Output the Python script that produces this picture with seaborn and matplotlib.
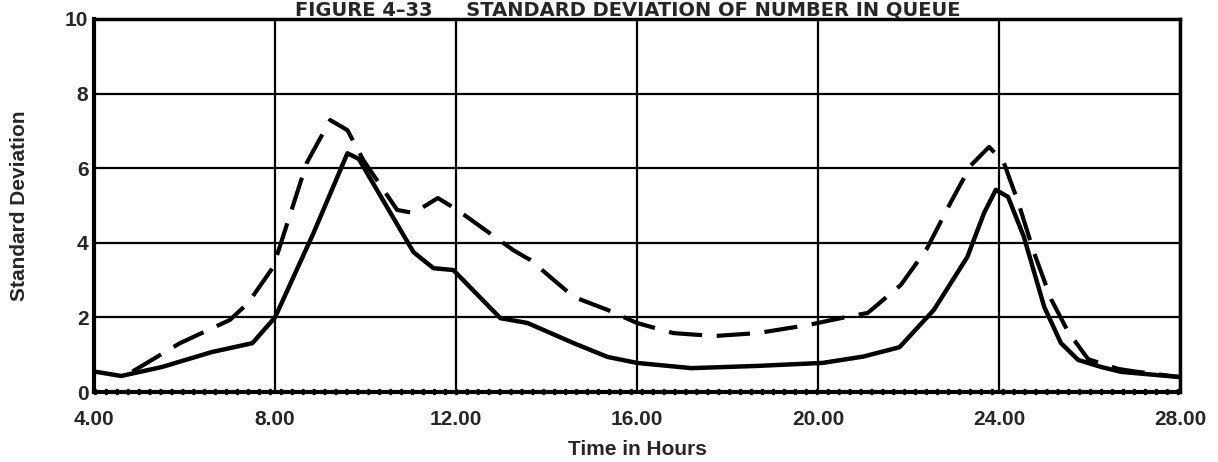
import matplotlib
matplotlib.use("Agg")
import matplotlib.pyplot as plt
import seaborn as sns
import pandas as pd

# Standard deviation of number in queue, solid series
solid_hours = [4.0, 4.6, 5.5, 6.6, 7.5, 8.0, 8.85, 9.6, 9.85, 11.06, 11.5, 11.94,
               12.98, 13.58, 14.6, 15.35, 16.0, 17.2, 18.67, 20.1, 21.0, 21.8,
               22.56, 23.3, 23.67, 23.93, 24.2, 24.55, 25.0, 25.37, 25.75, 26.26,
               26.7, 28.0]
solid_sd = [0.55, 0.43, 0.67, 1.07, 1.31, 2.0, 4.26, 6.4, 6.25, 3.75, 3.32, 3.27,
            1.98, 1.85, 1.31, 0.94, 0.78, 0.64, 0.70, 0.78, 0.95, 1.2,
            2.2, 3.62, 4.8, 5.42, 5.23, 4.16, 2.28, 1.31, 0.86, 0.67,
            0.54, 0.40]

# Dashed series
dashed_hours = [4.85, 5.9, 7.0, 7.4, 7.96, 8.7, 9.22, 9.6, 9.95, 10.7, 11.06, 11.6,
                12.03, 13.27, 13.64, 14.6, 15.35, 16.0, 16.8, 17.7, 18.67, 19.8,
                20.5, 21.1, 21.83, 22.4, 22.94, 23.38, 23.78, 24.1, 24.42, 24.77,
                25.15, 25.53, 25.97, 26.63, 27.0, 28.0]
dashed_sd = [0.55, 1.31, 1.93, 2.38, 3.35, 6.14, 7.29, 7.02, 6.22, 4.88, 4.8, 5.2,
             4.88, 3.8, 3.54, 2.55, 2.2, 1.85, 1.58, 1.5, 1.58, 1.8,
             1.98, 2.12, 2.87, 3.83, 5.1, 6.08, 6.57, 6.17, 5.1, 3.75,
             2.49, 1.61, 0.88, 0.62, 0.55, 0.40]

# Zero-level series along the time axis
base_hours = [4.0, 28.0]
base_sd = [0.0, 0.0]

x_ticks = [4, 8, 12, 16, 20, 24, 28]
x_tick_labels = ["4.00", "8.00", "12.00", "16.00", "20.00", "24.00", "28.00"]
y_ticks = [0, 2, 4, 6, 8, 10]
y_tick_labels = ["0", "2", "4", "6", "8", "10"]

title_text = "FIGURE 4\u201333     STANDARD DEVIATION OF NUMBER IN QUEUE"
x_label = "Time in Hours"
y_label = "Standard Deviation"

sns.set_style("white")
plt.rcParams["font.family"] = ["Liberation Sans", "DejaVu Sans"]
plt.rcParams["font.weight"] = "bold"

fig = plt.figure(figsize=(12.18, 4.62), dpi=100)
ax = fig.add_axes([0.0772, 0.1515, 0.8916, 0.8074])

solid_df = pd.DataFrame({"hours": solid_hours, "sd": solid_sd})
dashed_df = pd.DataFrame({"hours": dashed_hours, "sd": dashed_sd})
base_df = pd.DataFrame({"hours": base_hours, "sd": base_sd})

ax.set_xlim(4, 28)
ax.set_ylim(0, 10)
ax.set_xticks(x_ticks)
ax.set_xticklabels(x_tick_labels)
ax.set_yticks(y_ticks)
ax.set_yticklabels(y_tick_labels)
ax.grid(True, color="black", linewidth=1.6, zorder=1)
ax.set_axisbelow(True)

sns.lineplot(data=solid_df, x="hours", y="sd", ax=ax, color="black",
             linewidth=3.2, estimator=None, sort=False, zorder=3,
             solid_joinstyle="round", solid_capstyle="round")
sns.lineplot(data=dashed_df, x="hours", y="sd", ax=ax, color="black",
             linewidth=3.0, estimator=None, sort=False, zorder=3,
             dashes=False, linestyle=(0, (8, 3.5)),
             dash_joinstyle="round", dash_capstyle="butt")
sns.lineplot(data=base_df, x="hours", y="sd", ax=ax, color="black",
             linewidth=4.5, estimator=None, sort=False, zorder=4,
             linestyle=(0, (0.45, 1.3)), clip_on=False)

for side in ["left", "right", "top", "bottom"]:
    ax.spines[side].set_color("black")
ax.spines["left"].set_linewidth(3)
ax.spines["bottom"].set_linewidth(3)
ax.spines["top"].set_linewidth(2.5)
ax.spines["right"].set_linewidth(2.5)

ax.tick_params(axis="x", length=0, pad=13, labelsize=15)
ax.tick_params(axis="y", length=0, pad=4, labelsize=15)
for lab in ax.get_xticklabels() + ax.get_yticklabels():
    lab.set_fontweight("bold")

ax.set_xlabel(x_label, fontsize=15, fontweight="bold", labelpad=8)
ax.set_ylabel(y_label, fontsize=15, fontweight="bold", labelpad=26)

fig.text(0.515, 1 - 16 / 462, title_text, ha="center", va="baseline",
         fontsize=14, fontweight="bold", family=["DejaVu Sans"])

fig.savefig("out.png", dpi=100, facecolor="white")
